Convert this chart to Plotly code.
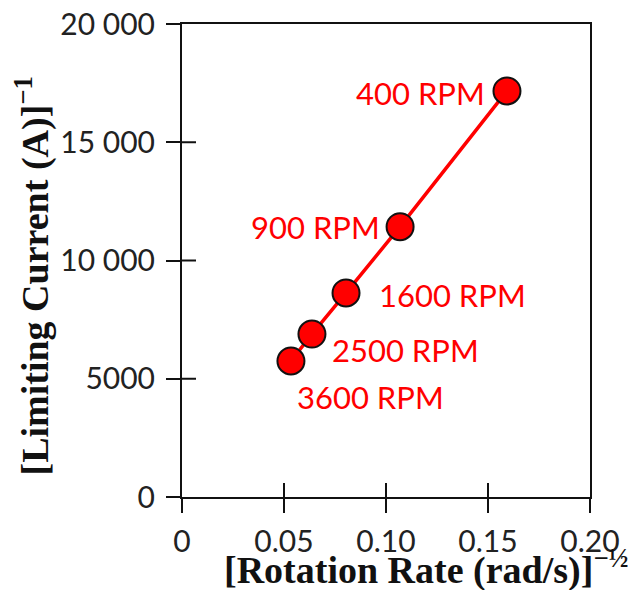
import plotly.graph_objects as go

# Data
rpm_labels = ["400 RPM", "900 RPM", "1600 RPM", "2500 RPM", "3600 RPM"]
x_vals = [0.1593, 0.1069, 0.0804, 0.0637, 0.0534]   # [rotation rate (rad/s)]^-1/2
y_vals = [17170, 11430, 8630, 6890, 5750]           # [limiting current (A)]^-1

x_tickvals = [0, 0.05, 0.10, 0.15, 0.20]
x_ticktext = ["0", "0.05", "0.10", "0.15", "0.20"]
y_tickvals = [0, 5000, 10000, 15000, 20000]
y_ticktext = ["0", "5000", "10 000", "15 000", "20 000"]

x_title = "[Rotation Rate (rad/s)]<sup>−½</sup>"
y_title = "[Limiting Current (A)]<sup>−1</sup>"

# label placement relative to points: (xanchor, xshift, yshift)
label_pos = [("right", -20, -2), ("right", -18, 0), ("left", 31, -2),
             ("left", 18, -16), ("left", 4, -36)]

RED = "#ff0000"
INK = "#111111"
TICK_FONT = dict(family="Lato", size=30, color="#222222")
TITLE_FONT = dict(family="Liberation Serif", size=38, color=INK, weight="bold")
TICKLEN = 14

fig = go.Figure()
fig.add_trace(go.Scatter(
    x=x_vals, y=y_vals, mode="lines+markers",
    line=dict(color=RED, width=3.5),
    marker=dict(size=27, color=RED, line=dict(color=INK, width=2)),
    hoverinfo="skip", showlegend=False,
))

for lab, xv, yv, (xa, xs, ys) in zip(rpm_labels, x_vals, y_vals, label_pos):
    fig.add_annotation(x=xv, y=yv, text=lab, showarrow=False,
                       xanchor=xa, yanchor="middle", xshift=xs, yshift=ys,
                       font=dict(family="Lato", size=31, color=RED))

# axis titles
fig.add_annotation(x=0.5, y=0, xref="paper", yref="paper", text=x_title,
                   showarrow=False, xanchor="center", yanchor="top",
                   xshift=40, yshift=-44, font=TITLE_FONT)
fig.add_annotation(x=0, y=0.5, xref="paper", yref="paper", text=y_title,
                   showarrow=False, xanchor="center", yanchor="middle",
                   textangle=-90, xshift=-149, yshift=-16, font=TITLE_FONT)

# inside half of the crossing tick marks (outside half comes from the axes)
for v in x_tickvals[1:-1]:
    fig.add_shape(type="line", xref="x", yref="y", x0=v, x1=v,
                  ysizemode="pixel", yanchor=y_tickvals[0], y0=0, y1=TICKLEN,
                  line=dict(color=INK, width=2), layer="below")
for v in y_tickvals[1:-1]:
    fig.add_shape(type="line", xref="x", yref="y", y0=v, y1=v,
                  xsizemode="pixel", xanchor=x_tickvals[0], x0=0, x1=TICKLEN,
                  line=dict(color=INK, width=2), layer="below")

common_axis = dict(showgrid=False, zeroline=False, linecolor=INK,
                   linewidth=2, tickcolor=INK, tickwidth=2, ticklen=TICKLEN,
                   ticks="outside", showline=True, mirror=True,
                   automargin=False, tickfont=TICK_FONT,
                   ticklabeloverflow="allow")

# page body adds an 8px offset, so the figure is sized/margined to compensate
fig.update_layout(
    width=628, height=582,
    margin=dict(l=174, r=46, t=16, b=93),
    paper_bgcolor="white", plot_bgcolor="white",
    xaxis=dict(range=[0, 0.20], tickvals=x_tickvals, ticktext=x_ticktext,
               ticklabelstandoff=3, **common_axis),
    yaxis=dict(range=[0, 20000], tickvals=y_tickvals, ticktext=y_ticktext,
               ticklabelstandoff=5, **common_axis),
)

fig.write_html("out.html")
